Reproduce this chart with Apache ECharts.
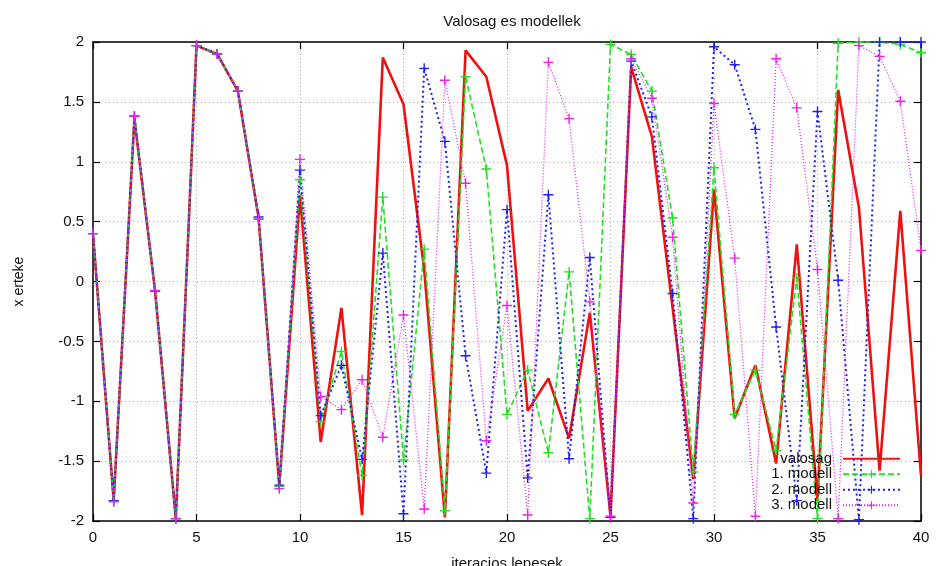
<!DOCTYPE html>
<html>
<head>
<meta charset="utf-8">
<title>Valosag es modellek</title>
<script src="https://cdn.jsdelivr.net/npm/echarts@6/dist/echarts.min.js"></script>
<style>
  html, body { margin: 0; padding: 0; background: #fff; }
  #chart { width: 936px; height: 566px; }
</style>
</head>
<body>
<div id="chart"></div>
<script>
// Iteration steps 0..40
const steps = [0,1,2,3,4,5,6,7,8,9,10,11,12,13,14,15,16,17,18,19,20,
               21,22,23,24,25,26,27,28,29,30,31,32,33,34,35,36,37,38,39,40];

// Observed trajectory
const valosag = [0.40,-1.83,1.36,-0.08,-1.98,1.97,1.90,1.59,0.53,-1.71,0.72,
                 -1.34,-0.22,-1.95,1.87,1.48,0.10,-1.97,1.93,1.71,0.97,
                 -1.08,-0.81,-1.31,-0.26,-1.96,1.79,1.21,-0.22,-1.65,0.77,
                 -1.14,-0.70,-1.52,0.31,-1.83,1.60,0.62,-1.58,0.59,-1.62];

// Model trajectories
const modell1 = [0.40,-1.83,1.38,-0.08,-1.98,1.97,1.90,1.59,0.53,-1.71,0.85,
                 -1.17,-0.585,-1.62,0.705,-1.49,0.27,-1.915,1.71,0.94,-1.11,
                 -0.74,-1.43,0.08,-1.98,1.98,1.895,1.59,0.53,-1.59,0.95,
                 -1.11,-0.74,-1.41,0.03,-1.98,1.99,2.0,2.0,1.98,1.91];

const modell2 = [0.40,-1.83,1.38,-0.08,-1.98,1.97,1.90,1.59,0.54,-1.70,0.93,
                 -1.12,-0.70,-1.485,0.237,-1.94,1.78,1.17,-0.62,-1.60,0.60,
                 -1.64,0.725,-1.48,0.20,-1.97,1.84,1.375,-0.10,-1.98,1.96,
                 1.81,1.27,-0.38,-1.83,1.42,0.01,-1.99,2.0,2.0,2.0];

const modell3 = [0.40,-1.84,1.38,-0.075,-1.98,1.97,1.90,1.59,0.52,-1.73,1.02,
                 -0.96,-1.07,-0.82,-1.30,-0.28,-1.90,1.68,0.82,-1.33,-0.20,
                 -1.95,1.83,1.36,-0.17,-1.96,1.86,1.53,0.37,-1.85,1.486,
                 0.195,-1.96,1.86,1.45,0.10,-1.98,1.97,1.88,1.505,0.26];

const seriesNames = ['valosag', '1. modell', '2. modell', '3. modell'];

const FONT = '"Liberation Sans", Arial, sans-serif';
const PLUS = 'path://M4.3,0H5.7V4.3H10V5.7H5.7V10H4.3V5.7H0V4.3H4.3Z';

const pairs = arr => steps.map((s, i) => [s, arr[i]]);

const baseX = { type: 'value', min: 0, max: 40, interval: 5 };
const baseY = { type: 'value', min: -2, max: 2, interval: 0.5 };
const frameLine = { show: true, onZero: false, lineStyle: { color: '#000', width: 1.5 } };
const innerTick = { show: true, inside: true, length: 7, lineStyle: { color: '#000', width: 1.2 } };
const dotted = { show: true, lineStyle: { color: '#aaa', width: 1, type: [1, 3] } };

const chart = echarts.init(document.getElementById('chart'), null, { renderer: 'canvas' });

chart.setOption({
  backgroundColor: '#fff',
  animation: false,
  title: {
    text: 'Valosag es modellek',
    left: 507, top: 9, textAlign: 'center',
    textStyle: { fontFamily: FONT, fontSize: 15, fontWeight: 'normal', color: '#111' }
  },
  grid: { left: 93, right: 15, top: 42, bottom: 45, outerBoundsMode: 'none', containLabel: false },
  legend: {
    orient: 'vertical',
    right: 30, top: 446,
    align: 'right',
    itemWidth: 57, itemHeight: 10, itemGap: 0,
    textStyle: { fontFamily: FONT, fontSize: 15, color: '#111', lineHeight: 15.5, padding: [0, 6, 0, 0] },
    data: [
      { name: seriesNames[0], itemStyle: { opacity: 0 } },
      seriesNames[1], seriesNames[2], seriesNames[3]
    ]
  },
  xAxis: [
    Object.assign({}, baseX, {
      position: 'bottom',
      name: 'iteracios lepesek', nameLocation: 'middle', nameGap: 35,
      nameTextStyle: { fontFamily: FONT, fontSize: 15, color: '#111' },
      axisLine: frameLine, axisTick: innerTick, splitLine: dotted,
      axisLabel: { fontFamily: FONT, fontSize: 15, color: '#111', margin: 9 }
    }),
    Object.assign({}, baseX, {
      position: 'top',
      axisLine: frameLine, axisTick: innerTick,
      splitLine: { show: false }, axisLabel: { show: false }
    })
  ],
  yAxis: [
    Object.assign({}, baseY, {
      position: 'left',
      name: 'x erteke', nameLocation: 'middle', nameGap: 67,
      nameTextStyle: { fontFamily: FONT, fontSize: 14, color: '#111' },
      axisLine: frameLine, axisTick: innerTick, splitLine: dotted,
      axisLabel: { fontFamily: FONT, fontSize: 15, color: '#111', margin: 9 }
    }),
    Object.assign({}, baseY, {
      position: 'right',
      axisLine: frameLine, axisTick: innerTick,
      splitLine: { show: false }, axisLabel: { show: false }
    })
  ],
  series: [
    {
      name: seriesNames[0], type: 'line', data: pairs(valosag),
      symbol: PLUS, symbolSize: 10, showSymbol: false, clip: true,
      lineStyle: { color: '#f01010', width: 2.6, type: 'solid' },
      itemStyle: { color: '#f01010' }
    },
    {
      name: seriesNames[1], type: 'line', data: pairs(modell1),
      symbol: PLUS, symbolSize: 10, showAllSymbol: true, clip: true,
      lineStyle: { color: '#22e022', width: 1.6, type: [6, 3] },
      itemStyle: { color: '#22e022' }
    },
    {
      name: seriesNames[2], type: 'line', data: pairs(modell2),
      symbol: PLUS, symbolSize: 10, showAllSymbol: true, clip: true,
      lineStyle: { color: '#2020f0', width: 2, type: [2, 3] },
      itemStyle: { color: '#2020f0' }
    },
    {
      name: seriesNames[3], type: 'line', data: pairs(modell3),
      symbol: PLUS, symbolSize: 10, showAllSymbol: true, clip: true,
      lineStyle: { color: '#f020f0', width: 1.3, type: [1, 2] },
      itemStyle: { color: '#f020f0' }
    }
  ]
});
</script>
</body>
</html>
